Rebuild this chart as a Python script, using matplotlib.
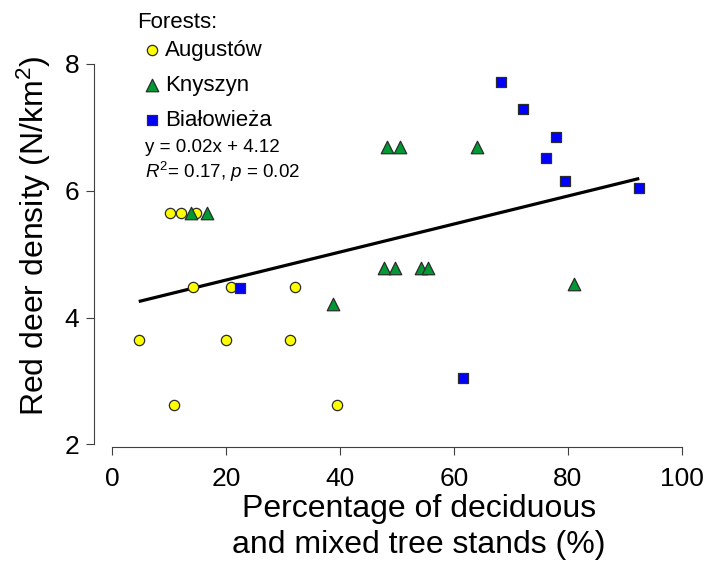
import matplotlib
matplotlib.use('Agg')
import matplotlib.pyplot as plt
import numpy as np

plt.rcParams['font.family'] = ['Liberation Sans', 'DejaVu Sans']
plt.rcParams['mathtext.fontset'] = 'custom'
plt.rcParams['mathtext.rm'] = 'Liberation Sans'
plt.rcParams['mathtext.it'] = 'Liberation Sans:italic'
plt.rcParams['mathtext.bf'] = 'Liberation Sans:bold'

# ---- data ----
aug_x = [4.7, 10.2, 12.1, 14.7, 14.3, 20.8, 32.1, 20.0, 31.2, 10.9, 39.5]
aug_y = [3.64, 5.65, 5.65, 5.65, 4.48, 4.48, 4.48, 3.64, 3.64, 2.62, 2.62]
kny_x = [13.8, 16.6, 38.7, 48.3, 50.5, 64.1, 47.8, 49.7, 54.3, 55.4, 81.0]
kny_y = [5.65, 5.65, 4.22, 6.69, 6.69, 6.69, 4.78, 4.78, 4.78, 4.78, 4.53]
bia_x = [22.5, 68.2, 72.1, 77.9, 76.2, 79.5, 92.5, 61.5]
bia_y = [4.46, 7.71, 7.29, 6.85, 6.52, 6.15, 6.05, 3.05]
forest_names = ['Augustów', 'Knyszyn', 'Białowieża']
x_ticks = [0, 20, 40, 60, 80, 100]
y_ticks = [2, 4, 6, 8]
# regression line as drawn in the reference
fit_slope = 0.0221
fit_intercept = 4.150

W, H = 708, 562
fig = plt.figure(figsize=(W / 100, H / 100), dpi=100)

def fx(px):
    return px / W

def fy(py):
    return 1 - py / H

ax = fig.add_axes([fx(94.3), fy(446.7), (704.8 - 94.3) / W, (446.7 - 51.3) / H])
ax.set_xlim(-3.1, 104)
ax.set_ylim(1.964, 8.2)

all_x = np.array(aug_x + kny_x + bia_x)
xl = np.array([all_x.min(), all_x.max()])
ax.plot(xl, fit_slope * xl + fit_intercept, color='black', lw=2.3, zorder=2, solid_capstyle='butt')

ec = '#2b2b2b'
s1 = ax.scatter(aug_x, aug_y, marker='o', s=7.4**2, c='#FFFF00', edgecolors=ec, linewidths=0.9, zorder=3, label=forest_names[0])
s2 = ax.scatter(kny_x, kny_y, marker='^', s=9.0**2, c='#009933', edgecolors=ec, linewidths=0.9, zorder=3, label=forest_names[1])
s3 = ax.scatter(bia_x, bia_y, marker='s', s=7.2**2, c='#0000FF', edgecolors=ec, linewidths=0.9, zorder=3, label=forest_names[2])

for sp in ['top', 'right']:
    ax.spines[sp].set_visible(False)
ax.spines['left'].set_bounds(2, 8)
ax.spines['bottom'].set_bounds(0, 100)
for sp in ['left', 'bottom']:
    ax.spines[sp].set_color('#404040')
    ax.spines[sp].set_linewidth(0.8)
ax.set_xticks(x_ticks)
ax.set_yticks(y_ticks)
ax.tick_params(axis='both', direction='out', length=5.8, width=0.8, color='#404040', labelsize=19, labelcolor='black')
ax.tick_params(axis='x', pad=9)
ax.tick_params(axis='y', pad=5)

# axis labels
fig.text(fx(419), fy(517), 'Percentage of deciduous', ha='center', va='baseline', fontsize=23)
fig.text(fx(419), fy(553), 'and mixed tree stands (%)', ha='center', va='baseline', fontsize=23)
fig.text(fx(34), fy(236), 'Red deer density (N/km$^2$)', ha='center', va='center', rotation=90, fontsize=23)

# legend
fig.text(fx(137), fy(23), 'Forests:', ha='left', va='center', fontsize=16)
leg = ax.legend(handles=[s1, s2, s3], loc='upper left', bbox_to_anchor=(fx(145.3), fy(40)),
                bbox_transform=fig.transFigure, frameon=False, fontsize=16, borderpad=0,
                handlelength=0.6, handletextpad=0.3, labelspacing=0.62, scatterpoints=1,
                borderaxespad=0)

fig.text(fx(145), fy(148), 'y = 0.02x + 4.12', ha='left', va='center', fontsize=13.5)
fig.text(fx(145), fy(172), '$R^2$= 0.17, $p$ = 0.02', ha='left', va='center', fontsize=13.5)

fig.savefig('out.png', dpi=100)
